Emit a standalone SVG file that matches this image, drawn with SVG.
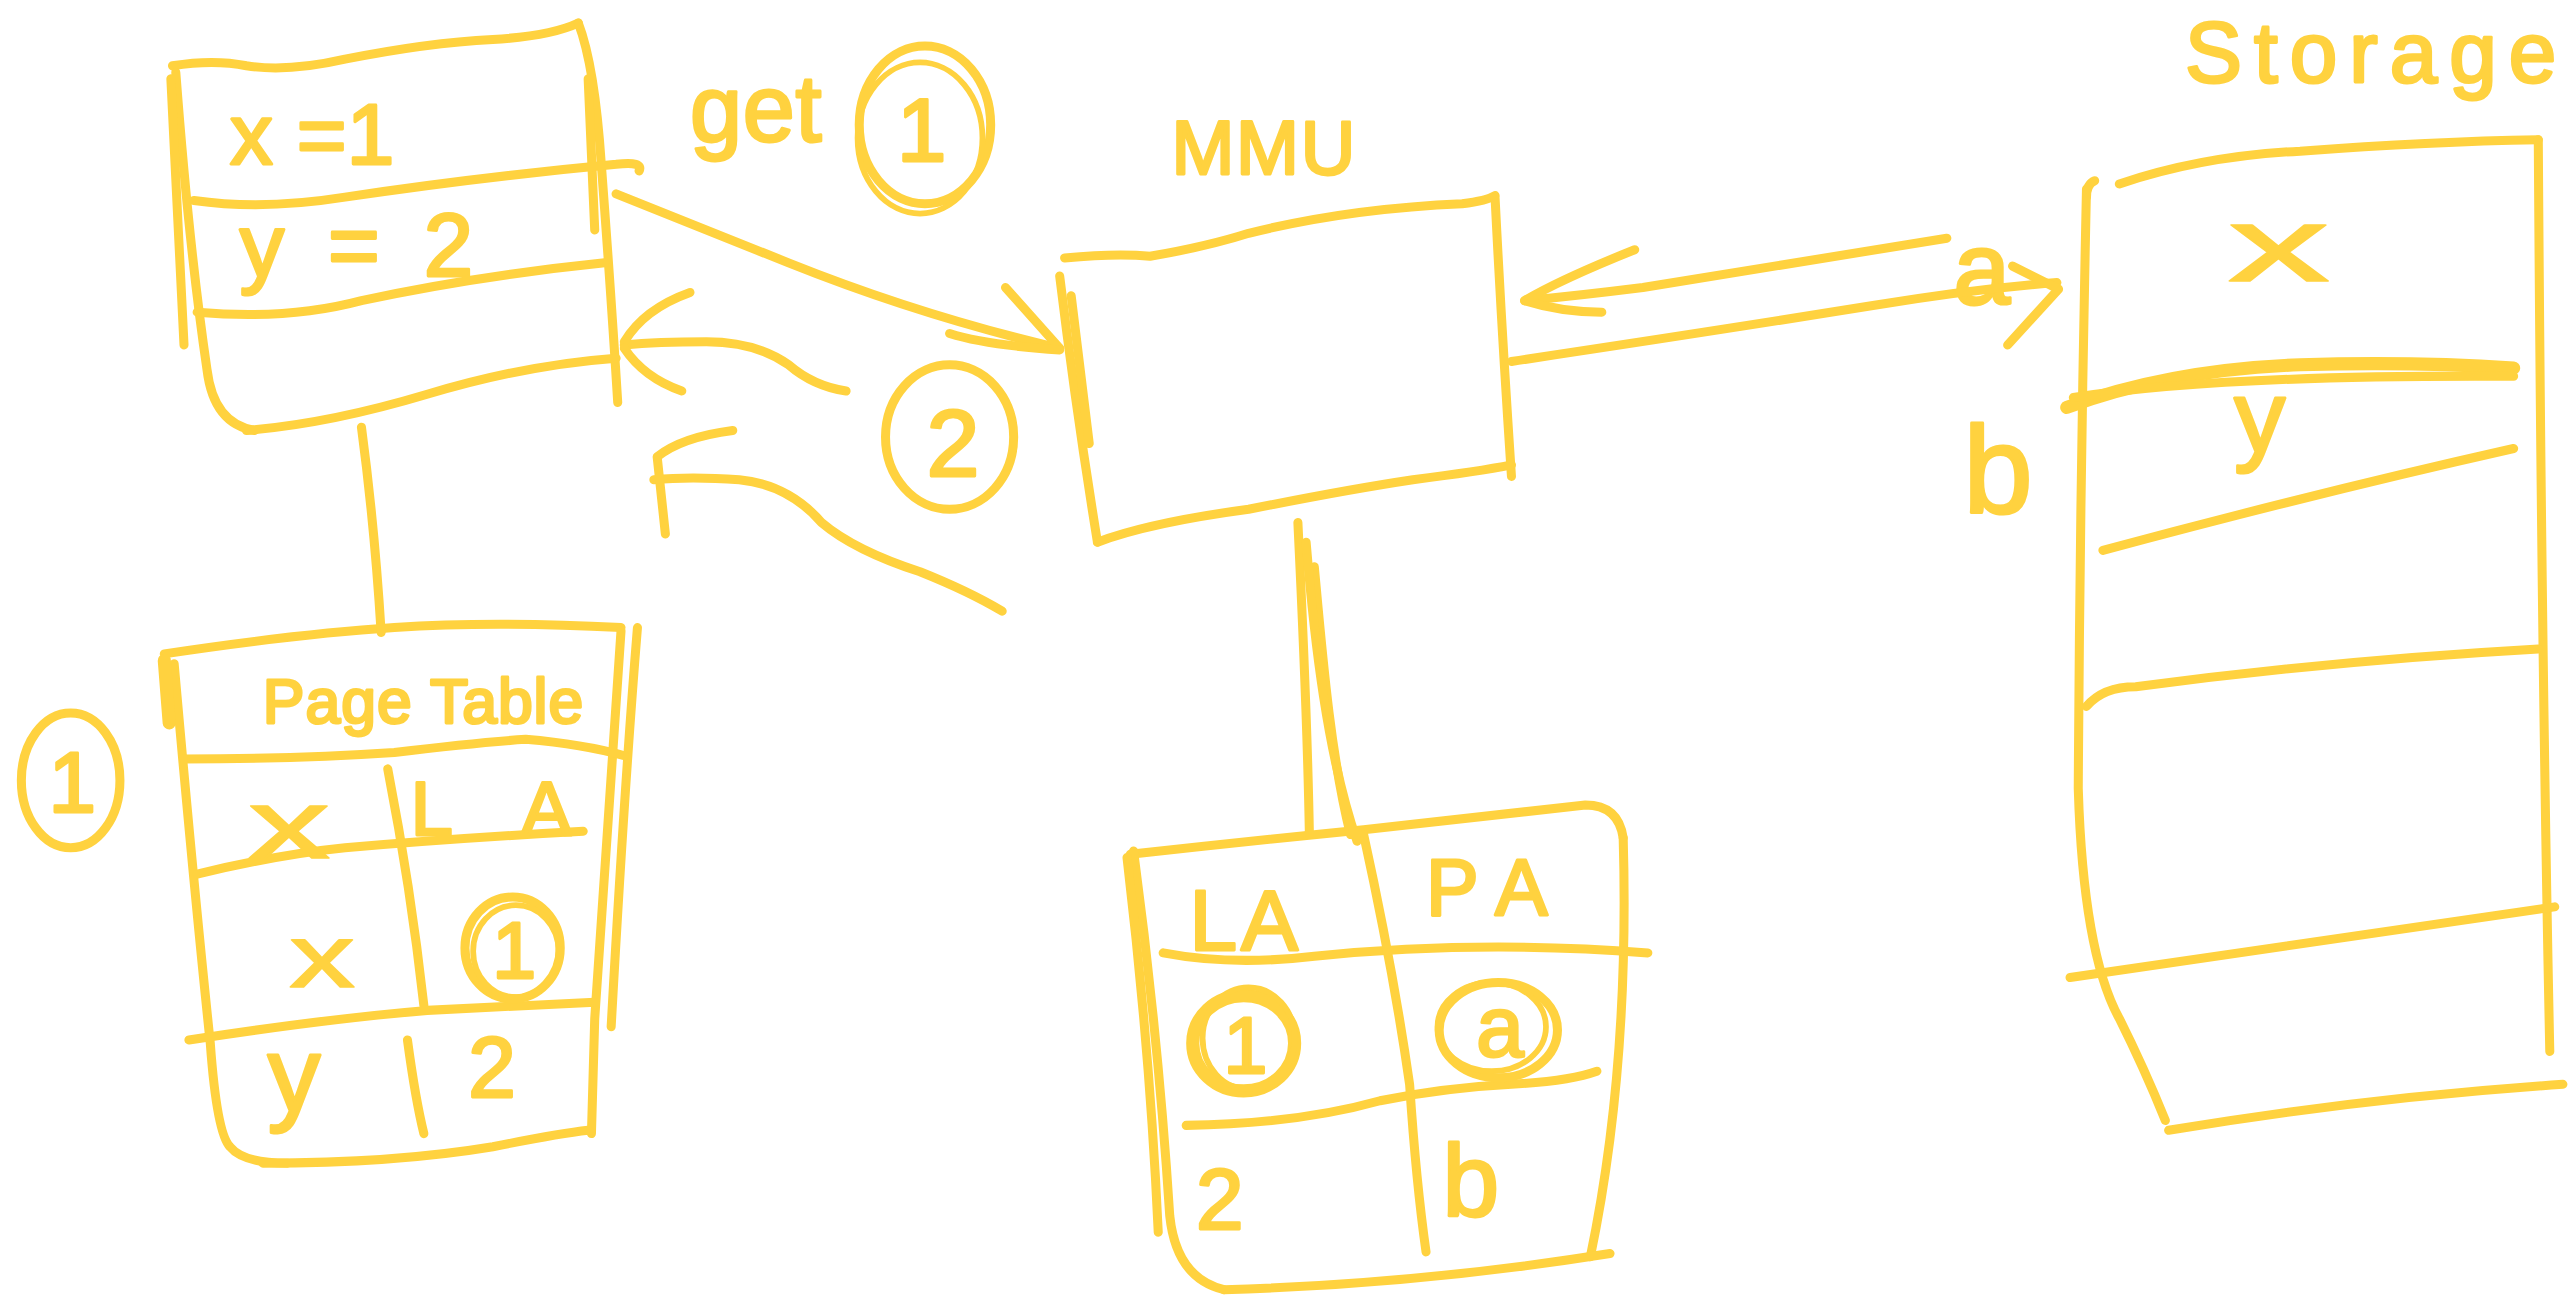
<svg xmlns="http://www.w3.org/2000/svg" width="2576" height="1303" viewBox="0 0 2576 1303">
  <style>
    .ink { fill: none; stroke: #FFD23F; stroke-width: 5.5; stroke-linecap: round; stroke-linejoin: round; }
    .thick { stroke-width: 8; }
    .thin { stroke-width: 3.5; }
    .txt { fill: #FFD23F; stroke: #FFD23F; stroke-width: 1.8; stroke-linejoin: round; font-family: "Liberation Sans", "DejaVu Sans", sans-serif; }
    .wide { stroke-width: 1; }
    .mid { text-anchor: middle; }
  </style>
  <rect width="2576" height="1303" fill="#FFFFFF"/>
  <!-- sketch is drawn on a 1568-wide grid and scaled up -->
  <g transform="scale(1.6429)">

    <!-- process memory: x and y values -->
    <g id="proc-mem">
      <path class="ink" d="M105,40 Q130,36 150,40 Q175,44 210,36 Q260,26 300,24 Q335,22 352,14"/>
      <path class="ink" d="M352,14 Q362,40 366,100 Q372,180 376,245"/>
      <path class="ink" d="M358,48 L362,140"/>
      <path class="ink" d="M107,44 Q115,150 126,225 Q130,258 155,262"/>
      <path class="ink" d="M104,48 L112,210"/>
      <path class="ink" d="M150,262 Q200,258 260,240 Q320,222 375,218"/>
      <path class="ink" d="M118,122 Q160,128 210,120 Q290,108 375,100 Q392,98 389,104"/>
      <path class="ink" d="M120,190 Q175,195 220,183 Q290,168 368,160"/>
      <text class="txt" x="140" y="100" font-size="52" textLength="100">x =1</text>
      <text class="txt" x="146" y="168" font-size="54" textLength="142">y = 2</text>
    </g>

    <!-- step labels -->
    <g id="step-get">
      <text class="txt" x="420" y="86" font-size="57" textLength="80">get</text>
      <ellipse class="ink" cx="563" cy="76" rx="40" ry="48"/>
      <ellipse class="ink thin" cx="560" cy="84" rx="38" ry="46"/>
      <text class="txt mid" x="561" y="98" font-size="54">1</text>
    </g>
    <g id="step-2">
      <ellipse class="ink" cx="578" cy="266" rx="39" ry="44"/>
      <text class="txt mid" x="580" y="290" font-size="58">2</text>
    </g>
    <g id="step-1">
      <ellipse class="ink" cx="43" cy="475" rx="30" ry="41"/>
      <text class="txt mid" x="44" y="494" font-size="52">1</text>
    </g>

    <!-- page table -->
    <g id="page-table">
      <path class="ink" d="M100,398 Q180,386 240,382 Q300,378 378,382"/>
      <path class="ink" d="M106,404 Q118,540 128,635 Q132,690 140,698 Q148,708 175,708"/>
      <path class="ink thick" d="M100,402 L103,440"/>
      <path class="ink" d="M378,384 Q370,500 362,620 L360,690"/>
      <path class="ink" d="M388,382 Q380,480 372,625"/>
      <path class="ink" d="M160,708 Q240,708 300,698 Q340,690 358,688"/>
      <path class="ink" d="M112,462 Q180,462 240,458 Q290,452 320,450 Q355,453 380,460"/>
      <path class="ink" d="M236,468 Q250,540 258,612"/>
      <path class="ink" d="M248,633 Q253,670 258,690"/>
      <path class="ink" d="M120,532 Q170,520 210,516 Q280,510 355,506"/>
      <path class="ink" d="M115,633 Q200,620 260,615 Q320,612 362,610"/>
      <text class="txt" x="160" y="440" font-size="38" textLength="195">Page Table</text>
      <text class="txt wide" x="151" y="522" font-size="60" textLength="50" lengthAdjust="spacingAndGlyphs">x</text>
      <text class="txt" x="250" y="508" font-size="46" textLength="98">LA</text>
      <text class="txt wide" x="176" y="601" font-size="54" textLength="40" lengthAdjust="spacingAndGlyphs">x</text>
      <ellipse class="ink" cx="312" cy="577" rx="29" ry="31"/>
      <ellipse class="ink thin" cx="314" cy="579" rx="26" ry="28"/>
      <text class="txt mid" x="313" y="595" font-size="48">1</text>
      <text class="txt" x="163" y="676" font-size="64">y</text>
      <text class="txt" x="285" y="668" font-size="52">2</text>
    </g>

    <!-- MMU -->
    <g id="mmu">
      <text class="txt" x="713" y="106" font-size="46" textLength="112">MMU</text>
      <path class="ink" d="M648,157 Q680,154 700,156 Q735,150 760,142 Q820,127 890,124 Q905,122 910,119"/>
      <path class="ink" d="M910,120 Q914,200 920,290"/>
      <path class="ink" d="M645,168 Q655,250 668,330"/>
      <path class="ink" d="M652,180 Q658,230 663,270"/>
      <path class="ink" d="M668,330 Q700,318 760,310 Q820,298 860,292 Q900,287 920,283"/>
    </g>

    <!-- MMU translation table -->
    <g id="mmu-table">
      <path class="ink" d="M688,520 Q760,512 830,505 Q900,497 965,490 Q985,490 988,510"/>
      <path class="ink" d="M690,518 Q705,630 712,740 Q716,778 745,785"/>
      <path class="ink" d="M686,522 Q700,640 705,750"/>
      <path class="ink" d="M988,510 Q992,650 968,765"/>
      <path class="ink" d="M745,785 Q860,782 980,763"/>
      <path class="ink" d="M708,580 Q750,588 800,582 Q900,572 1003,580"/>
      <path class="ink" d="M722,685 Q790,684 840,670 Q880,662 920,660 Q955,658 972,652"/>
      <path class="ink" d="M830,508 Q848,590 858,660 Q862,720 868,762"/>
      <text class="txt" x="724" y="578" font-size="52" textLength="66">LA</text>
      <text class="txt" x="868" y="557" font-size="48" textLength="74">PA</text>
      <ellipse class="ink thick" cx="757" cy="635" rx="31" ry="29"/>
      <ellipse class="ink thin" cx="760" cy="632" rx="28" ry="31"/>
      <text class="txt mid" x="758" y="653" font-size="48">1</text>
      <ellipse class="ink" cx="912" cy="627" rx="36" ry="29"/>
      <ellipse class="ink thin" cx="908" cy="625" rx="33" ry="27"/>
      <text class="txt mid" x="913" y="643" font-size="52">a</text>
      <text class="txt" x="728" y="748" font-size="52">2</text>
      <text class="txt" x="878" y="740" font-size="62">b</text>
    </g>

    <!-- storage -->
    <g id="storage">
      <text class="txt" x="1330" y="50" font-size="52" textLength="226">Storage</text>
      <path class="ink" d="M1290,112 Q1340,95 1400,92 Q1480,86 1545,85"/>
      <path class="ink" d="M1275,110 Q1270,112 1270,120"/>
      <path class="ink" d="M1270,115 Q1266,300 1265,480 Q1268,580 1290,620 Q1305,650 1318,682"/>
      <path class="ink" d="M1545,85 Q1547,400 1552,640"/>
      <path class="ink thick" d="M1258,248 Q1320,225 1400,222 Q1470,220 1530,224"/>
      <path class="ink" d="M1262,242 Q1350,228 1530,229"/>
      <path class="ink" d="M1280,335 Q1410,300 1530,273"/>
      <path class="ink" d="M1270,430 Q1280,418 1300,418 Q1420,402 1545,395"/>
      <path class="ink" d="M1260,595 Q1400,575 1555,552"/>
      <path class="ink" d="M1320,688 Q1440,668 1560,660"/>
      <text class="txt wide" x="1356" y="171" font-size="64" textLength="62" lengthAdjust="spacingAndGlyphs">x</text>
      <text class="txt" x="1360" y="275" font-size="62">y</text>
      <text class="txt" x="1189" y="185" font-size="62">a</text>
      <text class="txt" x="1195" y="312" font-size="76">b</text>
    </g>

    <!-- connectors -->
    <g id="connectors">
      <path class="ink" d="M220,260 Q228,320 232,385"/>
      <path class="ink" d="M790,318 C793,380 796,450 797,508"/>
      <path class="ink" d="M800,345 C805,400 810,460 822,508"/>
      <path class="ink" d="M795,330 C800,390 808,460 826,512"/>
      <!-- get request -->
      <path class="ink" d="M375,118 Q430,140 480,160 Q560,192 645,212"/>
      <path class="ink" d="M612,175 L645,212"/>
      <path class="ink" d="M578,203 Q600,210 645,213"/>
      <!-- reply 2 -->
      <path class="ink" d="M515,238 Q495,235 480,222 Q460,208 430,208 Q400,208 380,210"/>
      <path class="ink" d="M420,178 Q392,188 380,208"/>
      <path class="ink" d="M380,212 Q392,230 415,238"/>
      <!-- reply 3 -->
      <path class="ink" d="M610,372 Q590,360 560,348 Q520,335 500,318 Q480,295 450,292 Q420,290 398,292"/>
      <path class="ink" d="M446,262 Q415,266 400,278 L405,325"/>
      <!-- storage to MMU -->
      <path class="ink" d="M1185,145 Q1080,162 1000,175 Q960,180 928,183"/>
      <path class="ink" d="M995,152 Q950,170 928,183 Q950,190 975,190"/>
      <!-- MMU to storage -->
      <path class="ink" d="M920,220 Q1040,202 1140,186 Q1200,176 1252,172"/>
      <path class="ink" d="M1225,162 L1253,176 L1222,210"/>
    </g>
  </g>
</svg>
